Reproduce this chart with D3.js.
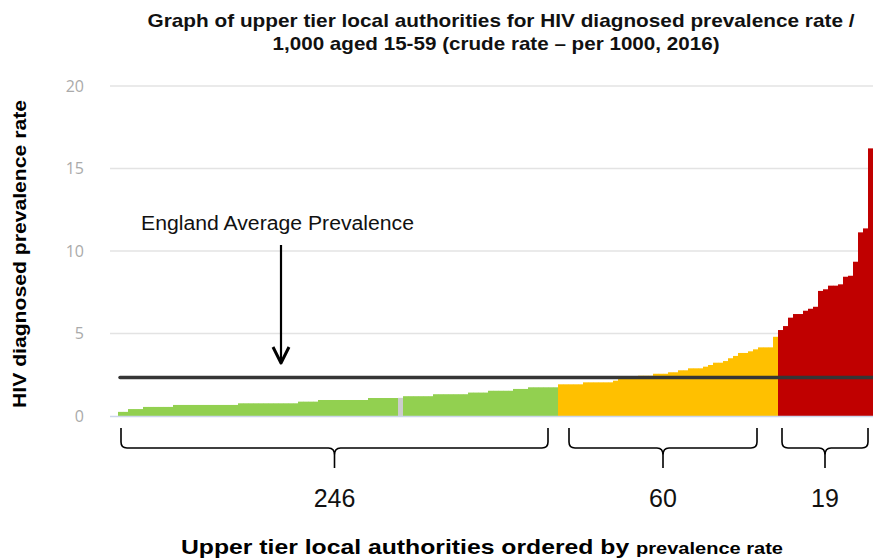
<!DOCTYPE html>
<html>
<head>
<meta charset="utf-8"/>
<title>HIV diagnosed prevalence rate</title>
<script src="https://cdn.jsdelivr.net/npm/d3@7"></script>
<style>
 body { margin: 0; background: #fff; }
 text { font-family: "Liberation Sans", Arial, sans-serif; }
</style>
</head>
<body>
<div id="chart"></div>
<script>
 // values, sorted low to high
 var greenValues = [
   0.25, 0.25,
   0.42, 0.42, 0.42,
   0.55, 0.55, 0.55, 0.55, 0.55, 0.55,
   0.67, 0.67, 0.67, 0.67, 0.67, 0.67, 0.67, 0.67, 0.67, 0.67, 0.67, 0.67, 0.67,
   0.77, 0.77, 0.77, 0.77, 0.77, 0.77, 0.77, 0.77, 0.77, 0.77, 0.77, 0.77,
   0.87, 0.87, 0.87, 0.87,
   0.97, 0.97, 0.97, 0.97, 0.97, 0.97, 0.97, 0.97, 0.97, 0.97,
   1.09, 1.09, 1.09, 1.09, 1.09, 1.09,
   1.1,
   1.2, 1.2, 1.2, 1.2, 1.2, 1.2,
   1.32, 1.32, 1.32, 1.32, 1.32, 1.32, 1.32,
   1.42, 1.42, 1.42, 1.42,
   1.53, 1.53, 1.53, 1.53, 1.53,
   1.64, 1.64, 1.64,
   1.74, 1.74, 1.74, 1.74, 1.74, 1.74
 ];
 var orangeValues = [
   1.92, 1.92, 1.92, 1.92, 1.92,
   2.04, 2.04, 2.04, 2.04, 2.04, 2.04,
   2.14,
   2.3, 2.3, 2.3, 2.3,
   2.44, 2.44, 2.44,
   2.56, 2.56, 2.56,
   2.65, 2.65,
   2.77, 2.77,
   2.89, 2.89, 2.89,
   2.99, 3.09, 3.23, 3.23, 3.33, 3.5, 3.64, 3.82, 3.82, 3.92, 4.04,
   4.16, 4.16, 4.16,
   4.8
 ];
 var redValues = [5.21, 5.45, 5.96, 6.18, 6.18, 6.38, 6.5, 6.62, 7.58, 7.68,
                  7.9, 7.9, 7.98, 8.44, 8.5, 9.35, 11.13, 11.37, 16.22];
 var greyIndex = 56;          // the one grey bar inside the green run
 var englandAverage = 2.33;
 var groupLabels = ['246', '60', '19'];
 var yTicks = [0, 5, 10, 15, 20];

 var colours = ['#92d050', '#ffc000', '#c00000'];

 var W = 873, H = 559;
 var svg = d3.select('#chart').append('svg').attr('width', W).attr('height', H);

 var groups = [greenValues, orangeValues, redValues];
 var bars = [];
 groups.forEach(function(vals, g) {
   vals.forEach(function(v, i) {
     bars.push({ i: bars.length, v: v, g: g, grey: g === 0 && i === greyIndex });
   });
 });

 var x = d3.scaleBand().domain(d3.range(bars.length)).range([118, 873]).padding(0);
 var y = d3.scaleLinear().domain([0, 20]).range([416, 86]);

 // grid lines
 svg.append('g').selectAll('line').data(yTicks.slice(1)).enter().append('line')
   .attr('x1', 110).attr('x2', W)
   .attr('y1', function(d) { return y(d); }).attr('y2', function(d) { return y(d); })
   .attr('stroke', '#e3e3e3').attr('stroke-width', 1.5);

 // y axis labels
 var yAxis = svg.append('g').attr('transform', 'translate(84,0)')
   .call(d3.axisLeft(y).tickValues(yTicks).tickSize(0).tickPadding(0));
 yAxis.select('.domain').remove();
 yAxis.selectAll('text').attr('fill', '#aaa')
   .style('font-family', '"Open Sans", sans-serif').style('font-size', '16px');

 // bars
 svg.append('g').selectAll('rect').data(bars).enter().append('rect')
   .attr('x', function(d) { return x(d.i); })
   .attr('width', x.bandwidth() + 0.3)
   .attr('y', function(d) { return y(d.v); })
   .attr('height', function(d) { return y(0) - y(d.v); })
   .attr('fill', function(d) { return d.grey ? '#cccccc' : colours[d.g]; });

 // baseline
 svg.append('line').attr('x1', 110).attr('x2', W).attr('y1', y(0) + 0.5).attr('y2', y(0) + 0.5)
   .attr('stroke', '#ccd6eb').attr('stroke-width', 1.5);

 // England average line
 svg.append('line').attr('x1', 120).attr('x2', W)
   .attr('y1', y(englandAverage)).attr('y2', y(englandAverage))
   .attr('stroke', '#363636').attr('stroke-width', 3.5).attr('stroke-linecap', 'round');

 // annotation and arrow
 svg.append('text').attr('x', 141).attr('y', 230).style('font-size', '20px')
   .attr('textLength', 273).attr('lengthAdjust', 'spacingAndGlyphs')
   .attr('fill', '#111').text('England Average Prevalence');
 var ax = 281;
 svg.append('line').attr('x1', ax).attr('x2', ax).attr('y1', 245).attr('y2', 362)
   .attr('stroke', '#000').attr('stroke-width', 2.2);
 svg.append('path').attr('d', 'M' + (ax - 8) + ',347 L' + ax + ',363 L' + (ax + 8) + ',347')
   .attr('fill', 'none').attr('stroke', '#000').attr('stroke-width', 3).attr('stroke-linejoin', 'round');

 // braces under each group
 var insets = [[3, 10], [11, 21], [4, 5]];
 var start = 0;
 groups.forEach(function(vals, g) {
   var x0 = x(start) + insets[g][0];
   var x1 = x(start + vals.length - 1) + x.bandwidth() - insets[g][1];
   var xm = (x0 + x1) / 2;
   var yt = 428, yh = 448, yb = 468;
   var d = 'M' + x0 + ',' + yt + ' L' + x0 + ',' + (yh - 6) + ' Q' + x0 + ',' + yh + ' ' + (x0 + 6) + ',' + yh +
           ' L' + (xm - 6) + ',' + yh + ' Q' + xm + ',' + yh + ' ' + xm + ',' + (yh + 7) + ' L' + xm + ',' + yb +
           ' M' + xm + ',' + (yh + 7) + ' Q' + xm + ',' + yh + ' ' + (xm + 6) + ',' + yh +
           ' L' + (x1 - 6) + ',' + yh + ' Q' + x1 + ',' + yh + ' ' + x1 + ',' + (yh - 6) + ' L' + x1 + ',' + yt;
   svg.append('path').attr('d', d).attr('fill', 'none').attr('stroke', '#000').attr('stroke-width', 1.6);
   svg.append('text').attr('x', xm).attr('y', 507).attr('text-anchor', 'middle')
     .style('font-size', '25px').attr('fill', '#111').text(groupLabels[g]);
   start += vals.length;
 });

 // titles
 var title = svg.append('text').attr('text-anchor', 'middle').style('font-weight', 'bold')
   .style('font-size', '19px').attr('fill', '#111');
 title.append('tspan').attr('x', 501).attr('y', 27)
   .attr('textLength', 707).attr('lengthAdjust', 'spacingAndGlyphs')
   .text('Graph of upper tier local authorities for HIV diagnosed prevalence rate /');
 title.append('tspan').attr('x', 496).attr('y', 50)
   .attr('textLength', 447).attr('lengthAdjust', 'spacingAndGlyphs')
   .text('1,000 aged 15-59 (crude rate \u2013 per 1000, 2016)');

 svg.append('text').attr('transform', 'translate(26,254) rotate(-90)').attr('text-anchor', 'middle')
   .style('font-weight', 'bold').style('font-size', '19px').attr('fill', '#000')
   .attr('textLength', 308).attr('lengthAdjust', 'spacingAndGlyphs')
   .text('HIV diagnosed prevalence rate');

 var xt = svg.append('text').attr('x', 482).attr('y', 554).attr('text-anchor', 'middle')
   .style('font-weight', 'bold').style('font-size', '21px').attr('fill', '#000')
   .attr('textLength', 602).attr('lengthAdjust', 'spacingAndGlyphs');
 xt.append('tspan').text('Upper tier local authorities ordered by ');
 xt.append('tspan').style('font-size', '17px').text('prevalence rate');
</script>
</body>
</html>
